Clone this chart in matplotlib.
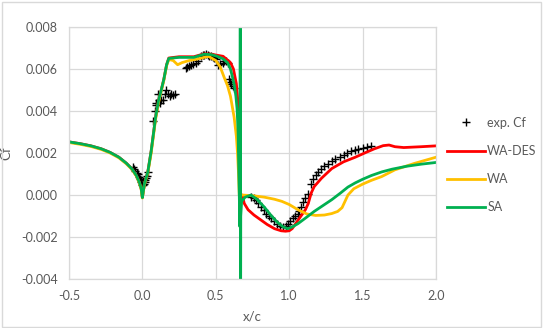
import numpy as np
import matplotlib.pyplot as plt
from matplotlib.patches import Rectangle

plt.rcParams['font.family'] = ['Lato', 'DejaVu Sans']

# experiment (x/c, Cf)
exp_x = [-0.066, -0.057, -0.048, -0.040, -0.032, -0.025, -0.018, -0.012, -0.006, -0.002,
         0.004, 0.009, 0.015, 0.021, 0.027, 0.032, 0.039,
         0.073, 0.084, 0.090, 0.096, 0.105, 0.112, 0.118, 0.130, 0.141, 0.152, 0.164, 0.173,
         0.185, 0.196, 0.208, 0.221,
         0.295, 0.305, 0.315, 0.330, 0.345, 0.363, 0.380, 0.397, 0.410, 0.420, 0.432, 0.445,
         0.455, 0.466, 0.480, 0.490, 0.500, 0.516, 0.530, 0.546, 0.557, 0.568, 0.580,
         0.591, 0.600, 0.607, 0.615, 0.621,
         0.740, 0.757, 0.774, 0.790, 0.808, 0.825, 0.842, 0.860, 0.877, 0.898, 0.920, 0.940,
         0.957, 0.975, 0.990, 1.008, 1.025, 1.042, 1.060, 1.070, 1.080, 1.095, 1.110, 1.128,
         1.150, 1.165, 1.180, 1.197, 1.215, 1.235, 1.265, 1.290, 1.315, 1.345, 1.370, 1.395,
         1.420, 1.445, 1.470, 1.500, 1.530, 1.560]
exp_cf = [0.00133, 0.00124, 0.00114, 0.00106, 0.00099, 0.00088, 0.00078, 0.00070, 0.00062, 0.00046,
          0.00050, 0.00054, 0.00062, 0.00070, 0.00080, 0.00090, 0.00110,
          0.00350, 0.00400, 0.00430, 0.00440, 0.00480, 0.00450, 0.00440, 0.00450, 0.00450, 0.00480, 0.00500, 0.00480,
          0.00470, 0.00480, 0.00475, 0.00480,
          0.00604, 0.00610, 0.00615, 0.00620, 0.00625, 0.00630, 0.00640, 0.00660, 0.00665, 0.00668, 0.00670, 0.00665,
          0.00662, 0.00660, 0.00655, 0.00650, 0.00645, 0.00620, 0.00625, 0.00630, 0.00640, 0.00640, 0.00630,
          0.00550, 0.00540, 0.00530, 0.00520, 0.00510,
          -0.00010, -0.00015, -0.00025, -0.00040, -0.00057, -0.00072, -0.00089, -0.00100, -0.00110, -0.00125, -0.00136, -0.00145,
          -0.00150, -0.00145, -0.00136, -0.00125, -0.00110, -0.00100, -0.00089, -0.00075, -0.00057, -0.00035, -0.00015, 0.00007,
          0.00054, 0.00075, 0.00095, 0.00110, 0.00125, 0.00138, 0.00150, 0.00162, 0.00172, 0.00180, 0.00192, 0.00202,
          0.00210, 0.00215, 0.00218, 0.00222, 0.00228, 0.00234]

# WA-DES
wades_x = [-0.50, -0.42, -0.35, -0.28, -0.22, -0.16, -0.11, -0.07, -0.04, -0.02, -0.008, 0.0,
           0.014, 0.037, 0.06, 0.075, 0.09, 0.11, 0.125, 0.146, 0.165, 0.18,
           0.25, 0.35, 0.42, 0.47, 0.51, 0.55, 0.60, 0.62, 0.64, 0.65, 0.657, 0.662,
           0.670, 0.680, 0.694, 0.72, 0.76, 0.81, 0.85, 0.90, 0.945, 0.975, 1.00, 1.02,
           1.05, 1.08, 1.11, 1.13, 1.15, 1.17, 1.22, 1.29, 1.37, 1.45, 1.52, 1.58, 1.64,
           1.68, 1.72, 1.78, 1.90, 2.0]
wades_cf = [0.00253, 0.00244, 0.00234, 0.00220, 0.00203, 0.00180, 0.00152, 0.00124, 0.00092, 0.00060, 0.00030, -0.00012,
            0.00054, 0.00110, 0.00210, 0.00290, 0.00370, 0.00450, 0.00490, 0.00550, 0.00620, 0.00652,
            0.00658, 0.00658, 0.00672, 0.00670, 0.00665, 0.00660, 0.00630, 0.00600, 0.00530, 0.00450, 0.00300, 0.00000,
            -0.00020, 0.00000, -0.00040, -0.00070, -0.00095, -0.00120, -0.00140, -0.00160, -0.00170, -0.00172, -0.00170, -0.00160,
            -0.00130, -0.00100, -0.00070, -0.00040, 0.00010, 0.00040, 0.00080, 0.00126, 0.00158, 0.00180, 0.00202, 0.00220, 0.00235,
            0.00238, 0.00230, 0.00226, 0.00230, 0.00234]

# WA
wa_x = [-0.50, -0.42, -0.35, -0.28, -0.22, -0.16, -0.11, -0.07, -0.04, -0.02, -0.008, 0.0,
        0.014, 0.037, 0.06, 0.075, 0.09, 0.11, 0.125, 0.146, 0.165, 0.18,
        0.21, 0.24, 0.27, 0.32, 0.38, 0.45, 0.50, 0.53, 0.557, 0.58, 0.60, 0.625, 0.64,
        0.648, 0.655, 0.660, 0.683, 0.75, 0.83, 0.90, 0.95, 1.00, 1.06, 1.12, 1.18, 1.24,
        1.29, 1.33, 1.36, 1.38, 1.40, 1.44, 1.50, 1.56, 1.63, 1.72, 1.85, 2.0]
wa_cf = [0.00250, 0.00241, 0.00231, 0.00217, 0.00200, 0.00177, 0.00149, 0.00121, 0.00089, 0.00057, 0.00027, -0.00014,
         0.00050, 0.00105, 0.00200, 0.00280, 0.00360, 0.00440, 0.00485, 0.00545, 0.00615, 0.00645,
         0.00640, 0.00620, 0.00630, 0.00640, 0.00648, 0.00660, 0.00640, 0.00610, 0.00560, 0.00520, 0.00470, 0.00370, 0.00280,
         0.00200, 0.00100, 0.00000, 0.00000, -0.00003, -0.00010, -0.00020, -0.00030, -0.00045, -0.00070, -0.00090, -0.00097, -0.00095,
         -0.00088, -0.00078, -0.00060, -0.00030, 0.00000, 0.00030, 0.00052, 0.00070, 0.00088, 0.00120, 0.00150, 0.00180]

# SA
sa_x = [-0.50, -0.42, -0.35, -0.28, -0.22, -0.16, -0.11, -0.07, -0.04, -0.02, -0.008, 0.0,
        0.014, 0.037, 0.06, 0.075, 0.09, 0.11, 0.125, 0.146, 0.165, 0.18,
        0.25, 0.35, 0.42, 0.47, 0.51, 0.55, 0.58, 0.60, 0.614, 0.627, 0.637, 0.645, 0.652,
        0.657, 0.660, 0.664, 0.667, 0.668, 0.670, 0.676, 0.70, 0.74, 0.78, 0.83, 0.88, 0.92,
        0.96, 0.99, 1.02, 1.06, 1.11, 1.17, 1.23, 1.29, 1.35, 1.40, 1.45, 1.50, 1.56, 1.63,
        1.70, 1.80, 1.90, 2.0]
sa_cf = [0.00253, 0.00244, 0.00234, 0.00220, 0.00203, 0.00180, 0.00152, 0.00124, 0.00092, 0.00060, 0.00030, -0.00012,
         0.00054, 0.00110, 0.00210, 0.00290, 0.00370, 0.00450, 0.00490, 0.00550, 0.00620, 0.00650,
         0.00655, 0.00655, 0.00670, 0.00668, 0.00660, 0.00648, 0.00630, 0.00600, 0.00560, 0.00520, 0.00470, 0.00410, 0.00300,
         0.00100, 0.00000, -0.00150, 0.01200, -0.01200, -0.00100, -0.00030, -0.00010, 0.00000, -0.00020, -0.00057, -0.00100, -0.00130,
         -0.00152, -0.00160, -0.00152, -0.00136, -0.00110, -0.00078, -0.00050, -0.00022, 0.00010, 0.00038, 0.00058, 0.00075, 0.00093, 0.00110,
         0.00123, 0.00137, 0.00147, 0.00155]

fig = plt.figure(figsize=(5.43, 3.28), dpi=100)
ax = fig.add_axes([0.127, 0.149, 0.676, 0.769])

ax.plot(exp_x, exp_cf, linestyle='none', marker='+', color='black', markersize=6,
        markeredgewidth=1.0, label='exp. Cf')
ax.plot(wades_x, wades_cf, color='#ff0000', lw=2.0, label='WA-DES')
ax.plot(wa_x, wa_cf, color='#ffc000', lw=2.0, label='WA')
ax.plot(sa_x, sa_cf, color='#00b050', lw=2.0, label='SA')

ax.set_xlim(-0.5, 2.0)
ax.set_ylim(-0.004, 0.008)
ax.set_xticks(np.arange(-0.5, 2.01, 0.5))
ax.set_yticks(np.arange(-0.004, 0.0081, 0.002))
ax.set_xticklabels(['%.1f' % v for v in np.arange(-0.5, 2.01, 0.5)])
ax.set_yticklabels(['%.3f' % v for v in np.arange(-0.004, 0.0081, 0.002)])
ax.grid(True, color='#d9d9d9', lw=0.9)
ax.set_axisbelow(True)
ax.tick_params(length=0, labelsize=9, labelcolor='#595959', pad=8)
for s in ax.spines.values():
    s.set_color('#d9d9d9')
    s.set_linewidth(0.9)

ax.set_xlabel('x/c', fontsize=9.5, color='#595959', labelpad=6)
ax.set_ylabel('Cf', fontsize=9.5, color='#595959', labelpad=6)

ax.legend(loc='center left', bbox_to_anchor=(1.0, 0.452), frameon=False, fontsize=9,
          labelcolor='#595959', handlelength=3.0, handletextpad=0.2, labelspacing=1.3)

fig.patches.append(Rectangle((0.003, 0.004), 0.994, 0.99, transform=fig.transFigure,
                             fill=False, edgecolor='#d9d9d9', lw=1.0))

fig.savefig('out.png', dpi=100)
